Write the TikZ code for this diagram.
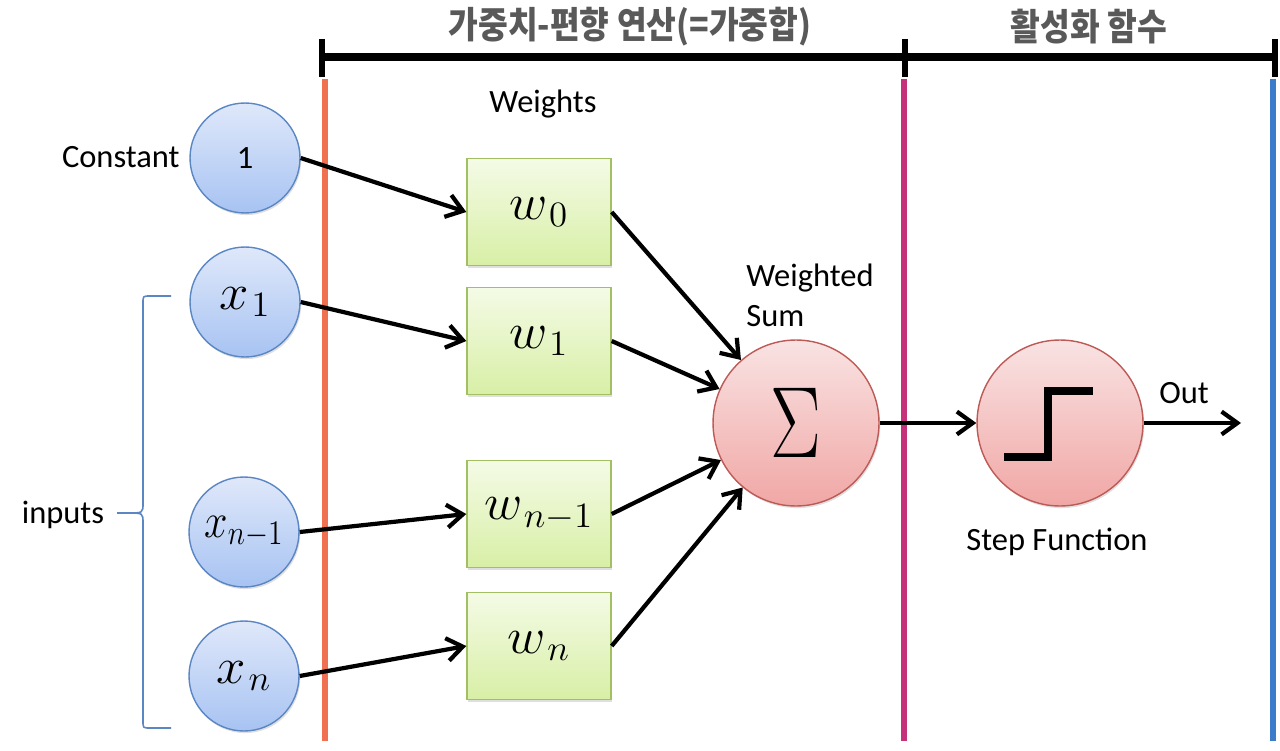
\RequirePackage{fix-cm}
\documentclass[tikz,border=0pt]{standalone}
\usepackage{fontspec}
\setmainfont{Carlito}
\newfontfamily\kofont{Noto Sans CJK KR}
\usetikzlibrary{arrows.meta,shadows}

\definecolor{inborder}{HTML}{5A86C4}
\definecolor{intop}{HTML}{DFE8FA}
\definecolor{inbot}{HTML}{A8C3F2}
\definecolor{wborder}{HTML}{A2C063}
\definecolor{wtop}{HTML}{F4FBE6}
\definecolor{wbot}{HTML}{D8EFA6}
\definecolor{sborder}{HTML}{BE5A56}
\definecolor{stop}{HTML}{F9E3E3}
\definecolor{sbot}{HTML}{F0A7A5}
\definecolor{titlegray}{HTML}{595959}
\definecolor{lineorange}{HTML}{F07052}
\definecolor{linemagenta}{HTML}{C6327A}
\definecolor{lineblue}{HTML}{3D7CC9}
\definecolor{braceblue}{HTML}{5A86C4}

\newcommand\varbox[1]{\scalebox{1.5}[1.45]{$#1$}}

\tikzset{
  nodeshadow/.style={drop shadow={opacity=0.25, shadow xshift=0.7pt, shadow yshift=-1.2pt}},
  inputnode/.style={circle, minimum size=2.2cm, inner sep=0pt, draw=inborder, line width=0.8pt,
    top color=intop, bottom color=inbot, nodeshadow, font=\fontsize{20}{24}\selectfont},
  weightbox/.style={rectangle, minimum width=2.88cm, minimum height=2.14cm, inner sep=0pt,
    draw=wborder, line width=0.8pt, top color=wtop, bottom color=wbot, nodeshadow,
    font=\fontsize{20}{24}\selectfont},
  sumnode/.style={circle, minimum size=3.32cm, inner sep=0pt, draw=sborder, line width=0.8pt,
    top color=stop, bottom color=sbot, nodeshadow},
  txt/.style={font=\fontsize{18.5}{22.7}\selectfont, inner sep=0pt},
  titletxt/.style={font=\kofont\bfseries\fontsize{20}{24}\selectfont, text=titlegray, inner sep=0pt},
  conn/.style={->, line width=2.4pt},
}

\begin{document}
\begin{tikzpicture}[x=0.02cm, y=-0.02cm, >={Straight Barb[length=9pt,width=13pt]}]
                \useasboundingbox (0,0) rectangle (1280,750);
                % section marks
                \draw [line width=4pt] (322,57) -- (1275,57);
                \draw [line width=3.5pt] (322,39) -- (322,77);
                \draw [line width=3.5pt] (905,39) -- (905,77);
                \draw [line width=3.5pt] (1275,39) -- (1275,77);
                \draw [lineorange, line width=3pt] (325,79) -- (325,741);
                \draw [linemagenta, line width=3pt] (904,79) -- (904,741);
                \draw [lineblue, line width=3pt] (1273,79) -- (1273,741);
                \node [titletxt] (sumtitle) at (630,27) {\scalebox{0.92}[1.05]{가중치-편향 연산(=가중합)}};
                \node [titletxt] (acttitle) at (1089,27) {\scalebox{0.92}[1.05]{활성화 함수}};
                % inputs
                \node [inputnode, font=\fontsize{18.5}{22}\selectfont] (c0) at (245,158) {1};
                \node [inputnode] (x1) at (245,302) {\varbox{x_{\kern1pt1}}};
                \node [inputnode] (xn1) at (244,532) {\scalebox{1.2}[1.4]{$x_{n-1}$}};
                \node [inputnode] (xn) at (244,676) {\varbox{x_{\kern1pt n}}};
                \node [txt, anchor=east] (constlab) at (180,157) {Constant};
                \node [txt] (inlab) at (63,515) {inputs};
                \draw [braceblue, line width=0.9pt] (171,296) -- (150,296) .. controls (143,296) .. (143,303)
                    -- (143,503) .. controls (143,513) .. (128,513) -- (117,513)
                    (128,513) .. controls (143,513) .. (143,523) -- (143,721)
                    .. controls (143,728) .. (150,728) -- (171,728);
                % weights
                \node [txt] (wlab) at (543,104) {Weights};
                \node [weightbox] (w0) at (539,212) {\varbox{w_{\kern1pt0}}};
                \node [weightbox] (w1) at (539,341) {\varbox{w_{\kern1pt1}}};
                \node [weightbox] (wn1) at (539,514) {\varbox{w_{\kern1pt n-1}}};
                \node [weightbox] (wn) at (539,646) {\varbox{w_{\kern1pt n}}};
                \draw [conn] (c0.east) -- (w0.west);
                \draw [conn] (x1.east) -- (w1.west);
                \draw [conn] (xn1.east) -- (wn1.west);
                \draw [conn] (xn.east) -- (wn.west);
                % sum and step
                \node [sumnode] (sum) at (796,423) {\fontsize{24}{28}\selectfont\scalebox{1.8}[2.4]{$\Sigma$}};
                \node [txt, anchor=west, align=left] (sumlab) at (746,295) {Weighted\\Sum};
                \draw [conn] (w0.east) -- (sum);
                \draw [conn] (w1.east) -- (sum);
                \draw [conn] (wn1.east) -- (sum);
                \draw [conn] (wn.east) -- (sum);
                \node [sumnode] (step) at (1060,423) {};
                \draw [line width=4.7pt] (1004,457) -- (1048,457) -- (1048,391) -- (1093,391);
                \node [txt] (steplab) at (1057,542) {Step Function};
                \coordinate (out) at (1241,423);
                \node [txt] (outlab) at (1184,393) {Out};
                \draw [conn] (sum) -- (step);
                \draw [conn] (step) -- (out);
            \end{tikzpicture}
\end{document}
